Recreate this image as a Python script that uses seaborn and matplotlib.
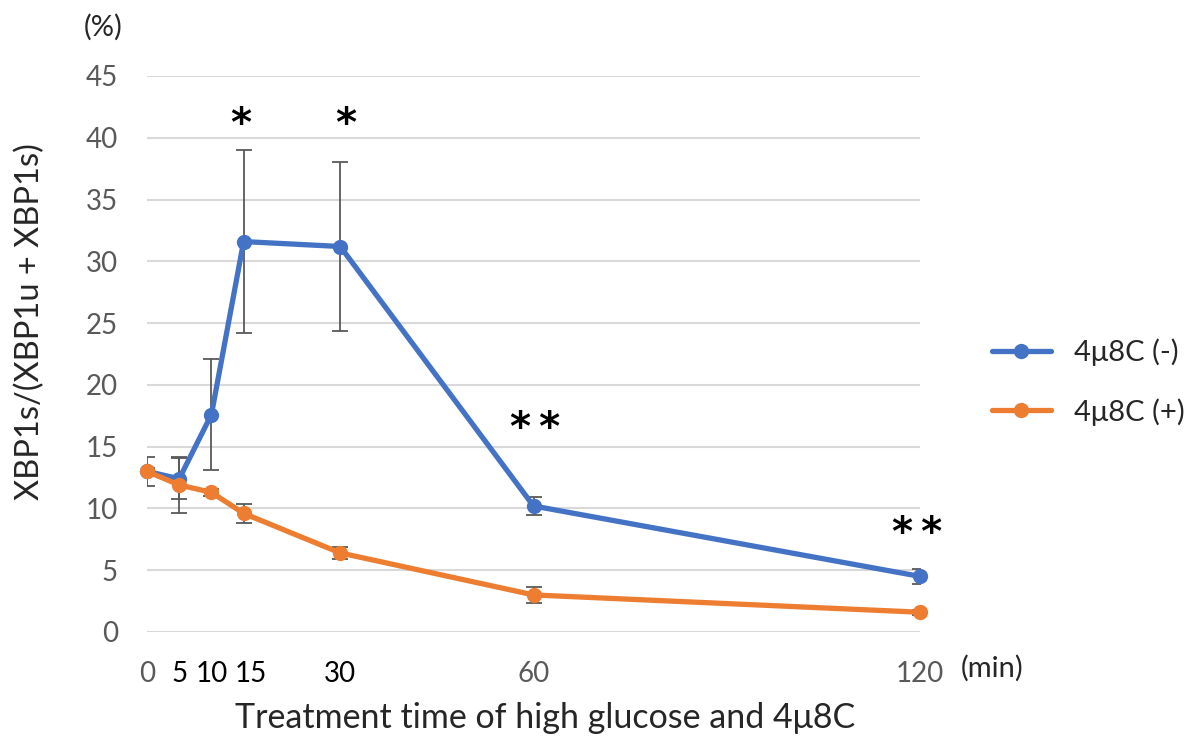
import matplotlib
matplotlib.use("Agg")
import matplotlib.pyplot as plt
import matplotlib.transforms as mtransforms
import seaborn as sns
import pandas as pd

# Treatment time (min) and XBP1 splicing ratio (%), mean and SD
times = [0, 5, 10, 15, 30, 60, 120]
minus_mean = [13.0, 12.4, 17.6, 31.6, 31.2, 10.2, 4.5]
minus_sd = [1.2, 1.65, 4.5, 7.4, 6.8, 0.7, 0.6]
plus_mean = [13.0, 11.9, 11.3, 9.6, 6.4, 3.0, 1.6]
plus_sd = [0.3, 2.3, 0.3, 0.75, 0.48, 0.65, 0.2]
series_names = ["4μ8C (-)", "4μ8C (+)"]
y_ticks = [0, 5, 10, 15, 20, 25, 30, 35, 40, 45]

# significance marks: (time, baseline height, text)
sig_marks = [(14.6, 40.15, "*"), (30.9, 40.15, "*"),
             (60.3, 15.55, "*\u2009*"), (119.6, 7.05, "*\u2009*")]

sns.set_theme(style="white")
plt.rcParams["font.family"] = ["Lato", "DejaVu Sans"]

colors = {"4μ8C (-)": "#4472C4", "4μ8C (+)": "#ED7D31"}
grey = "#595959"

df = pd.DataFrame({
    "time": times * 2,
    "ratio": minus_mean + plus_mean,
    "group": [series_names[0]] * len(times) + [series_names[1]] * len(times),
})

fig = plt.figure(figsize=(11.95, 7.38), dpi=100)
ax = fig.add_axes([147 / 1195, 1 - 632 / 738, (920 - 147) / 1195, (632 - 76) / 738])

# error bars underneath the lines
for mean, sd in ((minus_mean, minus_sd), (plus_mean, plus_sd)):
    ax.errorbar(times, mean, yerr=sd, fmt="none", ecolor=grey, elinewidth=1.3,
                capsize=6, capthick=1.3, zorder=2)

sns.lineplot(data=df, x="time", y="ratio", hue="group", palette=colors,
             marker="o", markersize=11, markeredgewidth=0, linewidth=3.8,
             ax=ax, zorder=3, clip_on=False)

ax.set_xlim(0, 120)
ax.set_ylim(0, 45)
ax.set_yticks(y_ticks)
ax.set_yticklabels([str(v) for v in y_ticks], fontsize=20, color=grey)

# time labels: 15 is nudged right so it clears 10
tick_pad = 21
ax.set_xticks(times)
ax.set_xticklabels(["" if t == 15 else str(t) for t in times], fontsize=20)
for lbl, t in zip(ax.get_xticklabels(), times):
    lbl.set_color(grey if t in (0, 60, 120) else "black")
ax.tick_params(axis="x", length=0, pad=tick_pad)
ax.tick_params(axis="y", length=0, pad=21)
nudge = mtransforms.ScaledTranslation(7 / 100, -tick_pad / 72, fig.dpi_scale_trans)
ax.text(15, 0, "15", transform=ax.get_xaxis_transform() + nudge,
        ha="center", va="top", fontsize=20, color="black")

ax.grid(axis="y", color="#D9D9D9", linewidth=1.5)
ax.grid(axis="x", visible=False)
ax.set_axisbelow(True)
for sp in ax.spines.values():
    sp.set_visible(False)
ax.set_xlabel("")
ax.set_ylabel("")

for x, y, s in sig_marks:
    ax.text(x, y, s, ha="center", va="baseline", fontsize=29, fontweight="bold",
            family="DejaVu Sans", color="black")

fig.text(545 / 1195, 1 - 718 / 738, "Treatment time of high glucose and 4μ8C",
         ha="center", va="center", fontsize=24.5)
fig.text(30 / 1195, 1 - 322 / 738, "XBP1s/(XBP1u + XBP1s)", ha="center", va="center",
         rotation=90, fontsize=23.5)
fig.text(103 / 1195, 1 - 27 / 738, "(%)", ha="center", va="center", fontsize=21)
fig.text(961 / 1195, 1 - 668 / 738, "(min)", ha="left", va="center", fontsize=21)

handles, labels = ax.get_legend_handles_labels()
ax.legend(handles, labels, loc="center left", bbox_to_anchor=(966 / 1195, 1 - 382 / 738),
          bbox_transform=fig.transFigure, frameon=False, fontsize=21,
          handlelength=2.0, handletextpad=0.8, labelspacing=1.1)

fig.savefig("out.png", dpi=100)
